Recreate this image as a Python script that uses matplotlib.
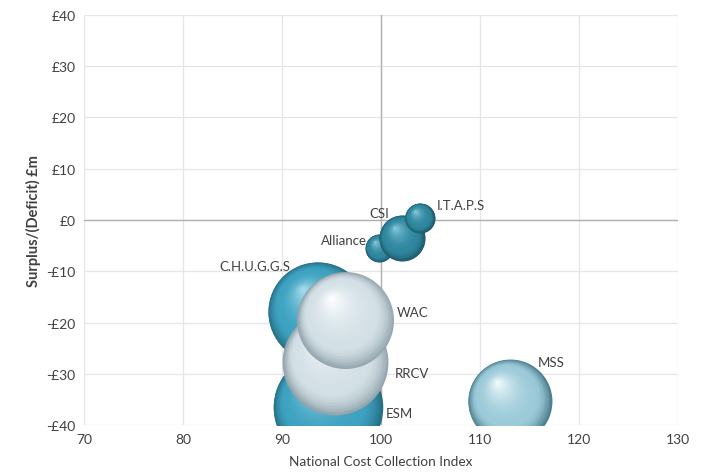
import numpy as np
import matplotlib
matplotlib.use("Agg")
import matplotlib.pyplot as plt
from matplotlib.colors import to_rgb
from matplotlib.transforms import ScaledTranslation

plt.rcParams['font.family'] = ['Lato', 'DejaVu Sans']

# === Data (drawing order: back to front) ===
names = ["ESM", "C.H.U.G.G.S", "RRCV", "WAC", "MSS", "Alliance", "CSI", "I.T.A.P.S"]
ncci = [94.6, 93.6, 95.4, 96.4, 113.0, 99.8, 102.1, 103.9]
surplus = [-36.5, -17.9, -27.7, -19.5, -35.3, -5.5, -3.5, 0.4]
bubble_size = [3000, 2500, 2800, 2350, 1760, 196, 530, 225]

x_ticks = [70, 80, 90, 100, 110, 120, 130]
y_ticks = [-40, -30, -20, -10, 0, 10, 20, 30, 40]
y_tick_labels = ["-£40", "-£30", "-£20", "-£10", "£0", "£10", "£20", "£30", "£40"]

# === Style ===
teal = ("#256f86", "#3ea2c1", "#a6dcec")
dark_teal = ("#1d5869", "#2f879f", "#86c9db")
silver = ("#93a5ad", "#d3e0e6", "#ffffff")
sky = ("#4d7f8e", "#9ccad9", "#f0fafd")
palette = [teal, teal, silver, silver, sky, dark_teal, dark_teal, dark_teal]
# label offsets in points (dx, dy) and alignment
label_pos = [(42, -4, "left"), (-20, 33, "right"), (43, -8, "left"), (37, 6, "left"),
             (20, 28, "left"), (-9, 6, "right"), (-9, 18, "right"), (12, 9, "left")]


def ramp(cols, t):
    edge, mid, hi = [np.array(to_rgb(c)) for c in cols]
    if t < 0.3:
        u = np.sin(np.pi / 2 * t / 0.3)
        return edge * (1 - u) + mid * u
    u = ((t - 0.3) / 0.7) ** 1.8
    return mid * (1 - u) + hi * u


fig = plt.figure(figsize=(7.02, 4.77), dpi=100)
ax = fig.add_axes([0.1197, 0.1069, 0.8461, 0.8596])

n_layers = 50
for i in range(len(names)):
    s = 2.0736 * bubble_size[i]
    r_pt = np.sqrt(s) / 2
    hx, hy = -0.3 * r_pt, 0.45 * r_pt
    for k in range(n_layers):
        t = k / n_layers
        frac = 1 - 0.97 * t
        tr = ax.transData + ScaledTranslation(hx * t / 72, hy * t / 72, fig.dpi_scale_trans)
        ax.scatter([ncci[i]], [surplus[i]], s=s * frac ** 2, color=ramp(palette[i], t),
                   linewidths=0, transform=tr, zorder=3 + i)
    dx, dy, ha = label_pos[i]
    ax.annotate(names[i], (ncci[i], surplus[i]), xytext=(dx, dy), textcoords="offset points",
                ha=ha, va="center", fontsize=9.5, color="#404040", zorder=20)

ax.set_xlim(70, 130)
ax.set_ylim(-40, 40)
ax.set_xticks(x_ticks)
ax.set_yticks(y_ticks)
ax.set_yticklabels(y_tick_labels)
ax.tick_params(length=0, labelsize=10, labelcolor="#404040", pad=6)
ax.grid(True, color="#e4e6ee", linewidth=0.9, zorder=0)
ax.set_axisbelow(True)
for sp in ax.spines.values():
    sp.set_visible(False)
ax.axhline(0, color="#b0b0b0", linewidth=1.0, zorder=1)
ax.axvline(100, color="#b0b0b0", linewidth=1.0, zorder=1)

ax.set_xlabel("National Cost Collection Index", fontsize=9.8, color="#404040", labelpad=7)
ax.set_ylabel("Surplus/(Deficit) £m", fontsize=10.5, color="#404040", fontweight="bold", labelpad=4)

fig.savefig("out.png", dpi=100)
